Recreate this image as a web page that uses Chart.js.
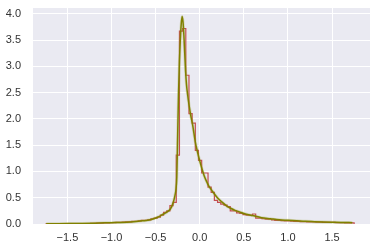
<!DOCTYPE html>
<html>
<head>
<meta charset="utf-8">
<script src="https://cdn.jsdelivr.net/npm/chart.js@4"></script>
<style>
  html, body { margin: 0; padding: 0; background: #fff; }
  #wrap { width: 374px; height: 251px; }
</style>
</head>
<body>
<div id="wrap"><canvas id="distChart" width="374" height="251"></canvas></div>
<script>
// histogram bins (step outline)
const binStart = -1.742;
const binWidth = 0.036;
const histValues = [
  0.003, 0.003, 0.004, 0.004, 0.005, 0.005, 0.006, 0.006, 0.007, 0.007,
  0.008, 0.008, 0.009, 0.009, 0.01, 0.01, 0.015, 0.015, 0.02, 0.02,
  0.025, 0.025, 0.03, 0.03, 0.035, 0.04, 0.04, 0.05, 0.05, 0.06,
  0.07, 0.07, 0.08, 0.10, 0.11, 0.13, 0.17, 0.22, 0.25, 0.35,
  0.41, 1.31, 3.67, 3.72, 2.83, 2.10, 1.92, 1.40, 1.21, 0.97,
  0.97, 0.70, 0.60, 0.45, 0.41, 0.38, 0.36, 0.33, 0.25, 0.25,
  0.21, 0.20, 0.18, 0.17, 0.17, 0.19, 0.11, 0.11, 0.10, 0.09,
  0.09, 0.08, 0.07, 0.07, 0.065, 0.06, 0.06, 0.055, 0.05, 0.05,
  0.045, 0.045, 0.04, 0.04, 0.04, 0.035, 0.035, 0.03, 0.03, 0.03,
  0.03, 0.025, 0.025, 0.025, 0.02, 0.02, 0.02
];

// density curve
const kdeX = [
  -1.74, -1.6, -1.4, -1.2, -1.0, -0.9, -0.75, -0.65, -0.56, -0.49,
  -0.45, -0.41, -0.37, -0.335, -0.3, -0.28, -0.27, -0.26, -0.25, -0.24,
  -0.23, -0.22, -0.21, -0.2, -0.19, -0.18, -0.17, -0.16, -0.15, -0.14,
  -0.12, -0.1, -0.08, -0.05, -0.025, 0.0, 0.025, 0.05, 0.08, 0.1,
  0.15, 0.2, 0.25, 0.3, 0.35, 0.4, 0.45, 0.5, 0.6, 0.7,
  0.8, 0.9, 1.0, 1.1, 1.2, 1.3, 1.4, 1.5, 1.6, 1.73
];
const kdeY = [
  0.003, 0.005, 0.01, 0.015, 0.025, 0.03, 0.045, 0.06, 0.08, 0.12,
  0.15, 0.19, 0.23, 0.28, 0.41, 0.55, 0.65, 0.9, 1.7, 2.5,
  3.1, 3.5, 3.8, 3.95, 3.85, 3.6, 3.25, 2.9, 2.65, 2.5,
  2.25, 2.05, 1.88, 1.56, 1.37, 1.2, 1.05, 0.92, 0.80, 0.73,
  0.61, 0.5, 0.42, 0.35, 0.30, 0.26, 0.23, 0.2, 0.16, 0.12,
  0.1, 0.08, 0.07, 0.06, 0.05, 0.045, 0.04, 0.035, 0.03, 0.025
];

const xTicks = [-1.5, -1.0, -0.5, 0.0, 0.5, 1.0, 1.5];
const xTickLabels = ["\u22121.5", "\u22121.0", "\u22120.5", "0.0", "0.5", "1.0", "1.5"];
const yTicks = [0, 0.5, 1.0, 1.5, 2.0, 2.5, 3.0, 3.5, 4.0];

// step outline points
const stepPts = [{ x: binStart, y: 0 }];
histValues.forEach((v, i) => stepPts.push({ x: binStart + i * binWidth, y: v }));
const lastEdge = binStart + histValues.length * binWidth;
stepPts.push({ x: lastEdge, y: histValues[histValues.length - 1] });
stepPts.push({ x: lastEdge, y: 0 });

const kdePts = kdeX.map((x, i) => ({ x: x, y: kdeY[i] }));

const plotBg = {
  id: "plotBg",
  beforeDraw(chart) {
    const { ctx, chartArea: a } = chart;
    ctx.save();
    ctx.fillStyle = "#EAEAF2";
    ctx.fillRect(a.left, a.top, a.right - a.left, a.bottom - a.top);
    ctx.restore();
  },
};

const ctx = document.getElementById("distChart");

new Chart(ctx, {
  type: "scatter",
  data: {
    datasets: [
      {
        data: kdePts,
        showLine: true,
        borderColor: "rgb(128,128,0)",
        borderWidth: 1.5,
        pointRadius: 0,
        cubicInterpolationMode: "monotone",
        order: 0,
      },
      {
        data: kdePts,
        showLine: true,
        borderColor: "rgba(150,160,40,0.25)",
        borderWidth: 3,
        pointRadius: 0,
        cubicInterpolationMode: "monotone",
        order: 1,
      },
      {
        data: stepPts,
        showLine: true,
        stepped: true,
        borderColor: "#C44E52",
        borderWidth: 1.2,
        pointRadius: 0,
        order: 2,
      },
    ],
  },
  options: {
    responsive: false,
    animation: false,
    layout: { padding: { top: 8, right: 4, left: 0, bottom: 0 } },
    plugins: { legend: { display: false }, tooltip: { enabled: false } },
    scales: {
      x: {
        type: "linear",
        min: -1.89,
        max: 1.93,
        afterBuildTicks: (s) => { s.ticks = xTicks.map((v) => ({ value: v })); },
        afterFit: (s) => { s.height = 27; },
        border: { display: false },
        grid: { color: "#ffffff", lineWidth: 1, drawTicks: true, tickLength: 7, tickColor: "rgba(0,0,0,0)" },
        ticks: {
          color: "#333333",
          padding: 0,
          font: { family: "Liberation Sans", size: 11 },
          callback: (v) => xTickLabels[xTicks.indexOf(v)],
        },
      },
      y: {
        type: "linear",
        min: 0,
        max: 4.11,
        afterBuildTicks: (s) => { s.ticks = yTicks.map((v) => ({ value: v })); },
        afterFit: (s) => { s.width = 33; },
        border: { display: false },
        grid: { color: "#ffffff", lineWidth: 1, drawTicks: true, tickLength: 12, tickColor: "rgba(0,0,0,0)" },
        ticks: {
          color: "#333333",
          padding: 0,
          font: { family: "Liberation Sans", size: 11 },
          callback: (v) => v.toFixed(1),
        },
      },
    },
  },
  plugins: [plotBg],
});
</script>
</body>
</html>
